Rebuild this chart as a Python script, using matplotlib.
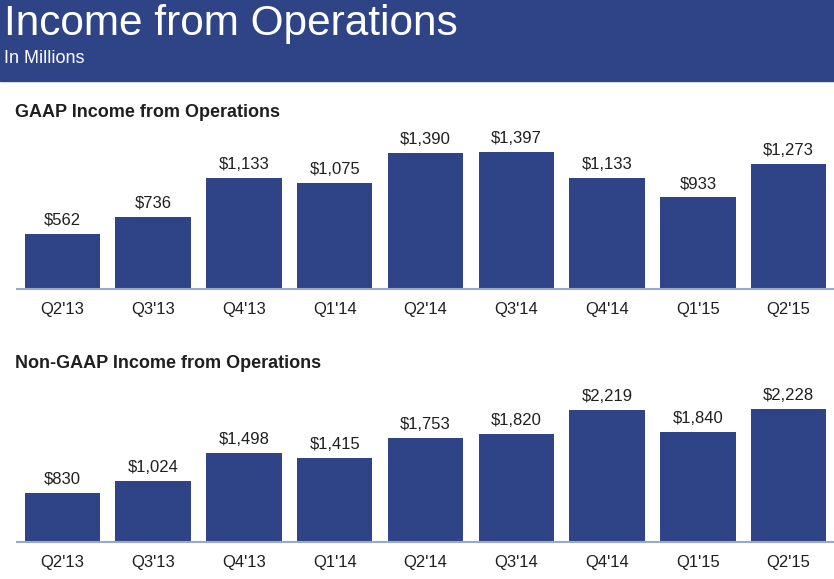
import matplotlib.pyplot as plt
from matplotlib.patches import Rectangle

# Quarterly income from operations, in millions
quarters = ["Q2'13", "Q3'13", "Q4'13", "Q1'14", "Q2'14", "Q3'14", "Q4'14", "Q1'15", "Q2'15"]
gaap = [562, 736, 1133, 1075, 1390, 1397, 1133, 933, 1273]
non_gaap = [830, 1024, 1498, 1415, 1753, 1820, 2219, 1840, 2228]

bar_color = '#2E4486'
text_color = '#1F1F1F'
axis_color = '#9AA8CC'

plt.rcParams['font.family'] = ['Liberation Sans', 'DejaVu Sans']

W, H = 834, 579
fig = plt.figure(figsize=(W / 100, H / 100), dpi=100)


def px_box(left, top, right, bottom):
    # pixel box (from top-left) -> figure fraction rect
    return [left / W, 1 - bottom / H, (right - left) / W, (bottom - top) / H]


# Header band
fig.patches.append(Rectangle((0, 1 - 80.5 / H), 1, 80.5 / H, transform=fig.transFigure,
                             color=bar_color, zorder=0))
fig.text(4 / W, 1 - 34.5 / H, 'Income from Operations', color='white', fontsize=30.5, va='baseline')
fig.text(4 / W, 1 - 63 / H, 'In Millions', color='white', fontsize=13, va='baseline')


def draw_panel(rect, values, ymax, title, title_y):
    ax = fig.add_axes(rect)
    x = range(len(values))
    bars = ax.bar(x, values, width=0.83, color=bar_color)
    for b, v in zip(bars, values):
        ax.annotate(f'${v:,}', (b.get_x() + b.get_width() / 2, v), xytext=(0, 6.5),
                    textcoords='offset points', ha='center', va='baseline',
                    fontsize=12, color=text_color)
    ax.set_xlim(-0.5, len(values) - 0.5)
    ax.set_ylim(0, ymax)
    ax.set_xticks(list(x))
    ax.set_xticklabels(quarters, fontsize=12, color=text_color)
    ax.tick_params(axis='x', length=0, pad=9)
    ax.set_yticks([])
    for s in ['top', 'left', 'right']:
        ax.spines[s].set_visible(False)
    ax.spines['bottom'].set_color(axis_color)
    ax.spines['bottom'].set_linewidth(1.5)
    fig.text(15 / W, 1 - title_y / H, title, fontsize=13, fontweight='bold',
             color=text_color, va='baseline')
    return ax


draw_panel(px_box(17, 130, 834, 289), gaap, 1620, 'GAAP Income from Operations', 117)
draw_panel(px_box(17, 385, 834, 542.3), non_gaap, 2635, 'Non-GAAP Income from Operations', 368)

fig.savefig('out.png', dpi=100)
